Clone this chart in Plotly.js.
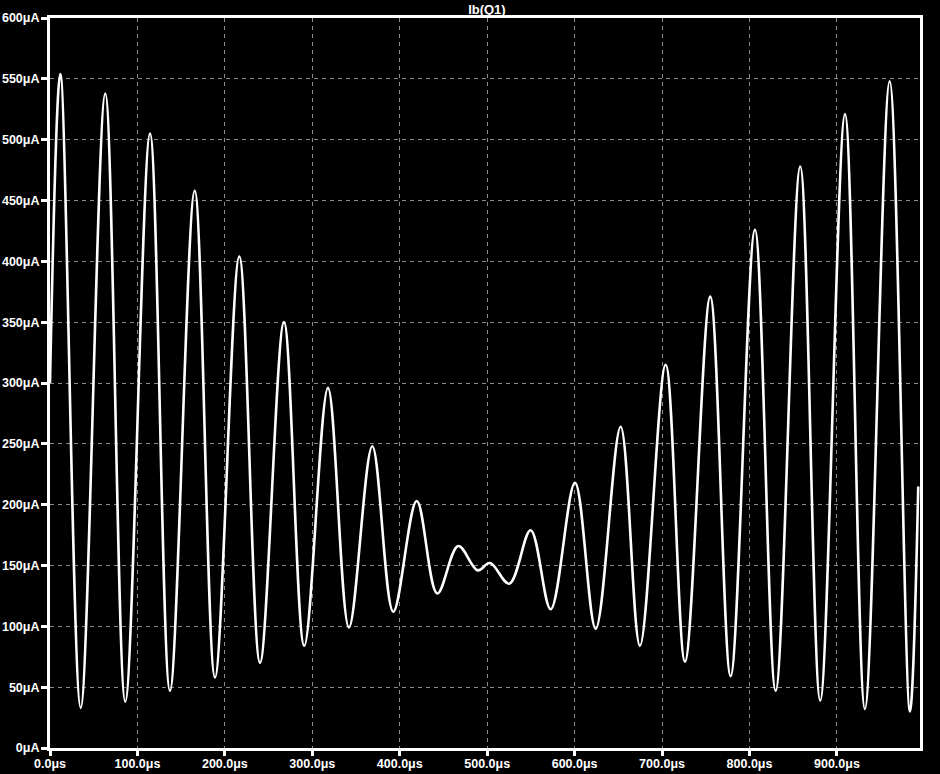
<!DOCTYPE html>
<html>
<head>
<meta charset="utf-8">
<script src="https://cdn.plot.ly/plotly-3.0.1.min.js"></script>
<style>
  html, body { margin: 0; padding: 0; background: #000; }
  #chart { width: 940px; height: 774px; }
</style>
</head>
<body>
<div id="chart"></div>
<script>
// Time in microseconds (extrema)
const timeUs = [0, 11.8, 35.1, 63.2, 86.1, 114.4, 137.2, 165.5, 188.7, 216.5, 240.2,
  267.6, 290.8, 317.9, 341.9, 368.6, 392.6, 419.4, 442.9, 466.9, 489.1,
  503.2, 525.3, 549.7, 572.6, 600.4, 624.1, 652.6, 674.7, 704.1, 726.2,
  755.1, 778.4, 806.2, 829.9, 858.0, 880.9, 909.2, 932.0, 960.3, 983.5, 993.0];
// Ib(Q1) in microamps
const ibQ1 = [300, 554, 33, 538, 38, 505, 47, 458, 58, 404, 70,
  350, 84, 296, 99, 248, 112, 203, 127, 166, 146,
  152, 135, 179, 114, 218, 98, 264, 84, 315, 71,
  371, 59, 426, 47, 478, 39, 521, 32, 548, 30, 215];

const xTicks = [0, 100, 200, 300, 400, 500, 600, 700, 800, 900];
const yTicks = [0, 50, 100, 150, 200, 250, 300, 350, 400, 450, 500, 550, 600];

const tickFont = { family: 'Liberation Sans, Arial, sans-serif', size: 12.5, color: '#ffffff', weight: 'bold' };

const trace = {
  x: timeUs,
  y: ibQ1,
  type: 'scatter',
  mode: 'lines',
  line: { color: '#ffffff', width: 2.6, shape: 'spline', smoothing: 1.0 },
  hoverinfo: 'skip'
};

const axisCommon = {
  showline: true, linecolor: '#ffffff', linewidth: 3, mirror: true,
  showgrid: true, gridcolor: '#8a8a8a', gridwidth: 1, griddash: '4px,4px',
  zeroline: false,
  ticks: 'outside', tickwidth: 3, tickcolor: '#ffffff',
  tickfont: tickFont
};

const layout = {
  width: 940, height: 774,
  paper_bgcolor: '#000000', plot_bgcolor: '#000000',
  margin: { l: 50, r: 20, t: 18, b: 26 },
  showlegend: false,
  title: {
    text: 'Ib(Q1)',
    font: { family: 'Liberation Sans, Arial, sans-serif', size: 13, color: '#ffffff', weight: 'bold' },
    x: 0.518, xref: 'container', xanchor: 'center',
    y: 0.988, yref: 'container', yanchor: 'middle'
  },
  xaxis: Object.assign({}, axisCommon, {
    range: [0, 995],
    ticklen: 5,
    ticklabelstandoff: -3,
    tickvals: xTicks,
    ticktext: xTicks.map(v => v.toFixed(1) + 'μs')
  }),
  yaxis: Object.assign({}, axisCommon, {
    range: [0, 600],
    ticklen: 6,
    ticklabelstandoff: -1,
    tickvals: yTicks,
    ticktext: yTicks.map(v => v + 'μA')
  })
};

Plotly.newPlot('chart', [trace], layout, { displayModeBar: false, staticPlot: true });
</script>
</body>
</html>
